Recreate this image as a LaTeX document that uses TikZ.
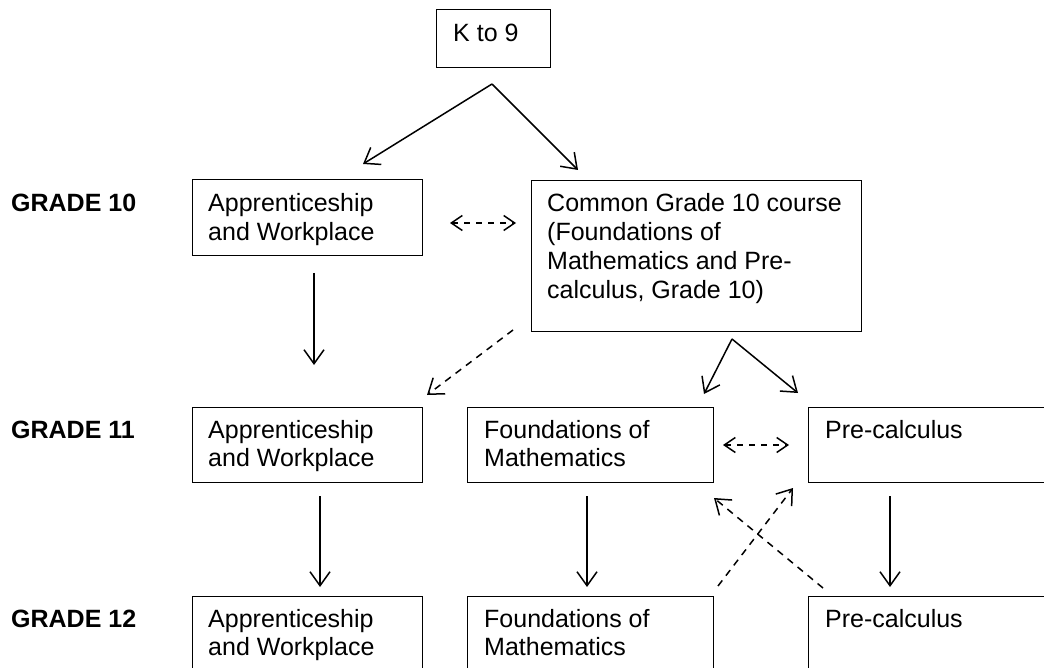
\documentclass[tikz,border=0pt]{standalone}
\usepackage{fontspec}
\setmainfont{Liberation Sans}
\usetikzlibrary{arrows.meta}
\begin{document}
\begin{tikzpicture}[x=1pt,y=-1pt,
  box/.style={draw, line width=1.3pt, inner sep=0pt, anchor=north west},
  txt/.style={anchor=base west, inner sep=0pt, font=\fontsize{25}{28.8}\selectfont},
  lbl/.style={anchor=base west, inner sep=0pt, font=\fontsize{25}{28.8}\selectfont\bfseries},
  conn/.style={line width=1.5pt, -{Straight Barb[length=14pt,width=20pt]}},
  dconn/.style={conn, dash pattern=on 7pt off 6pt},
  dbl/.style={line width=1.5pt, dash pattern=on 6pt off 6pt,
     {Straight Barb[length=11pt,width=15pt]}-{Straight Barb[length=11pt,width=15pt]}}]
\path[use as bounding box] (0,0) rectangle (1044,668);
\clip (0,0) rectangle (1044,668);

% grade labels
\node[lbl] (g10) at (11,212) {GRADE 10};
\node[lbl] (g11) at (11,438) {GRADE 11};
\node[lbl] (g12) at (11,627) {GRADE 12};

% boxes
\node[box, minimum width=114pt, minimum height=58pt] (k9) at (436,9) {};
\node[txt] (k9t) at (453,42) {K to 9};

\node[box, minimum width=230pt, minimum height=76pt] (aw10) at (192,179) {};
\node[txt] (aw10t) at (208,212) {\parbox[t]{300pt}{Apprenticeship\\and Workplace}};

\node[box, minimum width=330pt, minimum height=151pt] (com) at (531,180) {};
\node[txt] (comt) at (547,212) {\parbox[t]{320pt}{Common Grade 10 course\\(Foundations of\\Mathematics and Pre-\\calculus, Grade 10)}};

\node[box, minimum width=230pt, minimum height=75pt] (aw11) at (192,407) {};
\node[txt] (aw11t) at (208,438) {\parbox[t]{300pt}{Apprenticeship\\and Workplace}};
\node[box, minimum width=246pt, minimum height=75pt] (fm11) at (467,407) {};
\node[txt] (fm11t) at (484,438) {\parbox[t]{300pt}{Foundations of\\Mathematics}};
\node[box, minimum width=300pt, minimum height=75pt] (pc11) at (808,407) {};
\node[txt] (pc11t) at (825,438) {Pre-calculus};

\node[box, minimum width=230pt, minimum height=110pt] (aw12) at (192,596) {};
\node[txt] (aw12t) at (208,627) {\parbox[t]{300pt}{Apprenticeship\\and Workplace}};
\node[box, minimum width=246pt, minimum height=110pt] (fm12) at (467,596) {};
\node[txt] (fm12t) at (484,627) {\parbox[t]{300pt}{Foundations of\\Mathematics}};
\node[box, minimum width=300pt, minimum height=110pt] (pc12) at (808,596) {};
\node[txt] (pc12t) at (825,627) {Pre-calculus};

% connector end points
\coordinate (k9s) at (492,84);
\coordinate (k9l) at (363,164);
\coordinate (k9r) at (578,170);
\coordinate (h10a) at (450,223);
\coordinate (h10b) at (516,223);
\coordinate (aw10a) at (314,273);
\coordinate (aw10b) at (314,365);
\coordinate (comd1) at (513,330);
\coordinate (comd2) at (427,395);
\coordinate (coms) at (732,339);
\coordinate (coml) at (704,394);
\coordinate (comr) at (798,393);
\coordinate (h11a) at (723,445);
\coordinate (h11b) at (789,445);
\coordinate (v1a) at (320,496);
\coordinate (v1b) at (320,587);
\coordinate (v2a) at (587,496);
\coordinate (v2b) at (587,587);
\coordinate (v3a) at (890,496);
\coordinate (v3b) at (890,587);
\coordinate (xa1) at (718,586);
\coordinate (xa2) at (793,488);
\coordinate (xb1) at (823,588);
\coordinate (xb2) at (714,498);

% connectors
\draw[conn] (k9s) -- (k9l);
\draw[conn] (k9s) -- (k9r);
\draw[dbl] (h10a) -- (h10b);
\draw[conn] (aw10a) -- (aw10b);
\draw[dconn] (comd1) -- (comd2);
\draw[conn] (coms) -- (coml);
\draw[conn] (coms) -- (comr);
\draw[dbl] (h11a) -- (h11b);
\draw[conn] (v1a) -- (v1b);
\draw[conn] (v2a) -- (v2b);
\draw[conn] (v3a) -- (v3b);
\draw[dconn] (xa1) -- (xa2);
\draw[dconn] (xb1) -- (xb2);
\end{tikzpicture}
\end{document}
